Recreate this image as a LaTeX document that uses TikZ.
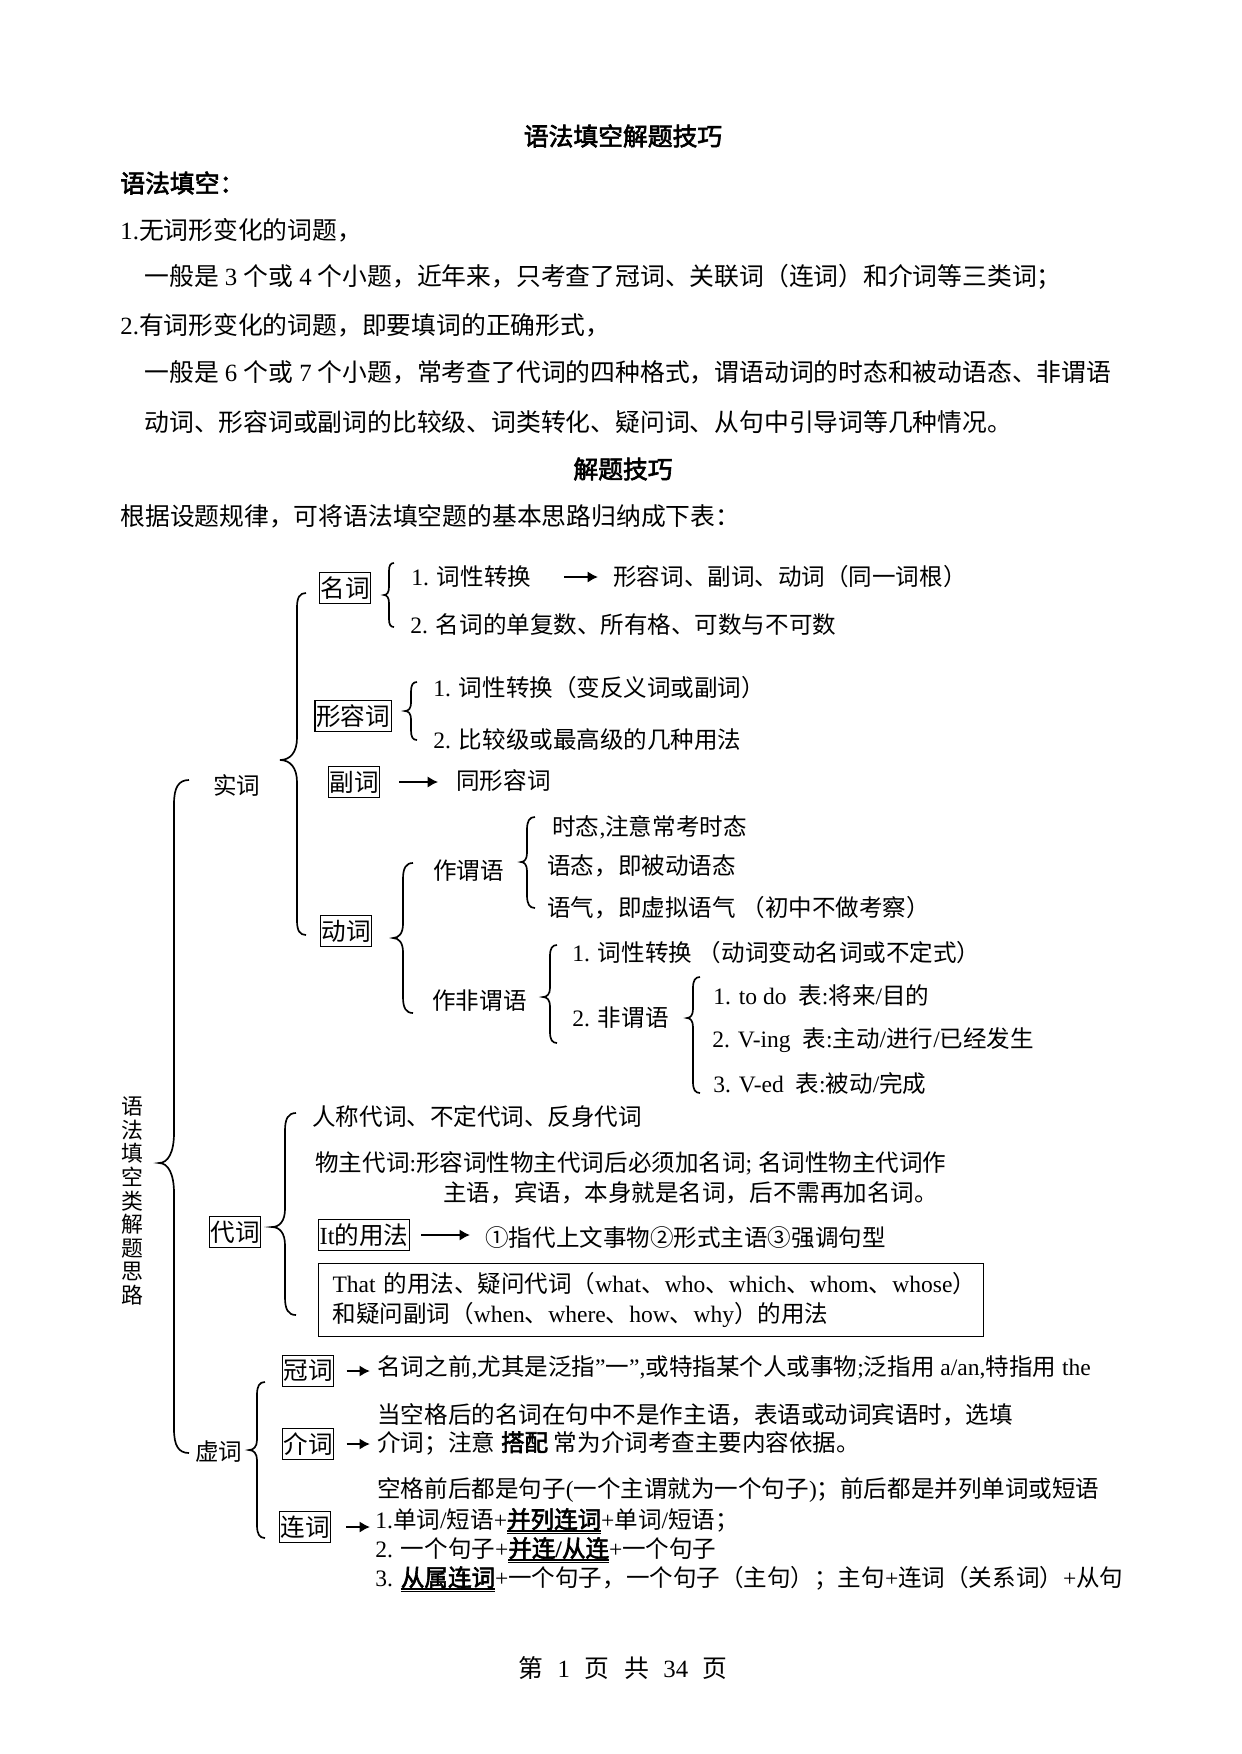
\documentclass[tikz,border=0pt]{standalone}
\usepackage{fontspec}
\setmainfont{Liberation Serif}
\newfontfamily\cjkfont[AutoFakeBold=2.5]{Noto Sans CJK SC}
\usetikzlibrary{arrows.meta}
\newcount\cjkcnt
\newXeTeXintercharclass\CJKcls
\newcommand\setcjkrange[2]{\cjkcnt=#1\relax\loop\XeTeXcharclass\cjkcnt=\CJKcls\relax\ifnum\cjkcnt<#2\relax\advance\cjkcnt by 1\relax\repeat}
\setcjkrange{"4E00}{"9FFF}
\setcjkrange{"3000}{"303F}
\setcjkrange{"FF00}{"FFEF}
\setcjkrange{"2460}{"24FF}
\XeTeXcharclass"201C=0
\XeTeXcharclass"201D=0
\XeTeXinterchartoks 0 \CJKcls={\cjkfont}
\XeTeXinterchartoks 4095 \CJKcls={\cjkfont}
\XeTeXinterchartoks \CJKcls 0={\rmfamily}
\XeTeXinterchartoks \CJKcls 4095={\rmfamily}
\XeTeXinterchartoks 4095 0={\rmfamily}
\XeTeXinterchartokenstate=1
\newcommand\hfont{\fontsize{11.9bp}{14bp}\selectfont}
\newcommand\dfont{\fontsize{11.3bp}{14bp}\selectfont}
\newcommand\bfont{\fontsize{11.8bp}{14bp}\selectfont}
\newbox\uub
\newcommand\uu[1]{\setbox\uub=\hbox{\bfseries#1}\rlap{\rule[-1.7bp]{\wd\uub}{0.9bp}}\rlap{\rule[-2.8bp]{\wd\uub}{0.45bp}}\box\uub}
% brace: xv, ytop, ybot, ytip, hook, tipdepth, tipheight
\newcommand\brc[7]{%
 \draw[brl] (#1+#5,#2) .. controls (#1+0.3*#5,#2) and (#1,#2+0.5*#5) .. (#1,#2+1.6*#5)
 -- (#1,#4-#7) .. controls (#1,#4-0.35*#7) and (#1-0.4*#6,#4) .. (#1-#6,#4)
 .. controls (#1-0.4*#6,#4) and (#1,#4+0.35*#7) .. (#1,#4+#7)
 -- (#1,#3-1.6*#5) .. controls (#1,#3-0.5*#5) and (#1+0.3*#5,#3) .. (#1+#5,#3);}
\begin{document}
\begin{tikzpicture}[x=0.48bp,y=-0.48bp,
 hd/.style={anchor=west,inner sep=0pt,font=\hfont},
 txt/.style={anchor=west,inner sep=0pt,font=\dfont},
 kbox/.style={draw,line width=0.6bp,inner xsep=0.6bp,inner ysep=0pt,minimum height=15bp,font=\bfont},
 arr/.style={line width=1bp,-{Latex[length=5bp,width=5.5bp]}},
 brl/.style={line width=0.8bp}]
\fill[white] (0,0) rectangle (1241,1754);
\useasboundingbox (0,0) rectangle (1241,1754);
% header
\node[hd,anchor=center,font=\hfont\bfseries] (title) at (623,136) {语法填空解题技巧};
\node[hd,font=\hfont\bfseries] (h1) at (120,183) {语法填空：};
\node[hd] (h2) at (120,230) {1.无词形变化的词题，};
\node[hd] (h3) at (144,277) {一般是 3 个或 4 个小题，近年来，只考查了冠词、关联词（连词）和介词等三类词；};
\node[hd] (h4) at (120,325) {2.有词形变化的词题，即要填词的正确形式，};
\node[hd] (h5) at (144,372) {一般是 6 个或 7 个小题，常考查了代词的四种格式，谓语动词的时态和被动语态、非谓语};
\node[hd] (h6) at (144,422) {动词、形容词或副词的比较级、词类转化、疑问词、从句中引导词等几种情况。};
\node[hd,anchor=center,font=\hfont\bfseries] (h7) at (623,469) {解题技巧};
\node[hd] (h8) at (120,516) {根据设题规律，可将语法填空题的基本思路归纳成下表：};
% vertical label
\node[inner sep=0pt,align=center,font=\fontsize{10.5bp}{11.3bp}\selectfont] (vt) at (132,1201) {语\\法\\填\\空\\类\\解\\题\\思\\路};
\brc{174}{780}{1453}{1163}{15}{15}{30}
% 实词
\node[txt] (shici) at (213,785) {实词};
\brc{297}{593}{935}{760}{9}{17}{22}
\node[kbox] (mingci) at (345,588) {名词};
\brc{389}{563}{627}{595}{5}{5}{8}
\node[txt] (n1) at (411,577) {1. 词性转换};
\node[txt] (n1b) at (613,577) {形容词、副词、动词（同一词根）};
\draw[arr,shorten <=15.8bp,shorten >=7.2bp] (n1.east) -- (n1b.west);
\node[txt] (n2) at (410,625) {2. 名词的单复数、所有格、可数与不可数};
\node[kbox] (xrc) at (353,716) {形容词};
\brc{411}{682}{740}{711}{6}{6}{8}
\node[txt] (a1) at (433,688) {1. 词性转换（变反义词或副词）};
\node[txt] (a2) at (433,740) {2. 比较级或最高级的几种用法};
\node[kbox] (fuci) at (354,782) {副词};
\node[txt] (f1) at (456,781) {同形容词};
\draw[arr,shorten <=9.1bp,shorten >=8.6bp] (fuci.east) -- (fuci.east -| f1.west);
\node[kbox] (dongci) at (346,931) {动词};
\brc{403}{863}{1013}{938}{10}{10}{14}
\node[txt] (zwy) at (433,871) {作谓语};
\brc{527}{817}{908}{862}{8}{6}{9}
\node[txt] (t1) at (552,827) {时态,注意常考时态};
\node[txt] (t2) at (547,866) {语态，即被动语态};
\node[txt] (t3) at (547,908) {语气，即虚拟语气 （初中不做考察）};
\node[txt] (zfwy) at (432,1001) {作非谓语};
\brc{550}{945}{1043}{997}{7}{7}{9}
\node[txt] (fw1) at (572,953) {1. 词性转换 （动词变动名词或不定式）};
\node[txt] (fw2) at (572,1018) {2. 非谓语};
\brc{693}{977}{1093}{1018}{7}{6}{9}
\node[txt] (g1) at (713,995) {1. to do~ 表:将来/目的};
\node[txt] (g2) at (712,1040) {2. V-ing~ 表:主动/进行/已经发生};
\node[txt] (g3) at (713,1084) {3. V-ed~ 表:被动/完成};
% 代词
\node[kbox] (daici) at (235,1232) {代词};
\brc{285}{1113}{1315}{1227}{11}{13}{18}
\node[txt] (d1) at (312,1117) {人称代词、不定代词、反身代词};
\node[txt] (d2) at (315,1163) {物主代词:形容词性物主代词后必须加名词; 名词性物主代词作};
\node[txt] (d3) at (443,1193) {主语，宾语，本身就是名词，后不需再加名词。};
\node[kbox] (itb) at (364,1235) {It的用法};
\node[txt] (d4) at (485,1238) {①指代上文事物②形式主语③强调句型};
\draw[arr,shorten <=5.3bp,shorten >=7.2bp] (itb.east) -- (itb.east -| d4.west);
\node[draw,line width=0.6bp,anchor=north west,minimum width=319.2bp,minimum height=35bp,inner xsep=6.7bp,inner ysep=0pt,text width=305.8bp,align=left,font=\fontsize{11.3bp}{14.4bp}\selectfont] (thatb) at (318,1263) {That 的用法、疑问代词（what、who、which、whom、whose）\\和疑问副词（when、where、how、why）的用法};
% 虚词
\node[txt] (xuci) at (195,1452) {虚词};
\brc{257}{1382}{1538}{1450}{8}{8}{10}
\node[kbox] (guanci) at (308,1371) {冠词};
\node[txt] (gt) at (377,1367) {名词之前,尤其是泛指”一”,或特指某个人或事物;泛指用 a/an,特指用 the};
\draw[arr,shorten <=5.8bp,shorten >=3.4bp] (guanci.east) -- (guanci.east -| gt.west);
\node[kbox] (jieci) at (308,1444) {介词};
\node[txt] (j1) at (377,1415) {当空格后的名词在句中不是作主语，表语或动词宾语时，选填};
\node[txt] (j2) at (377,1443) {介词；注意 \textbf{搭配} 常为介词考查主要内容依据。};
\draw[arr,shorten <=5.8bp,shorten >=3.4bp] (jieci.east) -- (jieci.east -| j2.west);
\node[kbox] (lianci) at (305,1527) {连词};
\node[txt] (l0) at (377,1490) {空格前后都是句子(一个主谓就为一个句子)；前后都是并列单词或短语};
\node[txt] (l1) at (375,1521) {1.单词/短语+\uu{并列连词}+单词/短语；};
\node[txt] (l2) at (375,1550) {2. 一个句子+\uu{并连/从连}+一个句子};
\node[txt] (l3) at (375,1579) {3. \uu{从属连词}+一个句子，一个句子（主句）；主句+连词（关系词）+从句};
\draw[arr,shorten <=7.2bp,shorten >=2.4bp] (lianci.east) -- (lianci.east -| l1.west);
% footer
\node[hd,anchor=center] (foot) at (623,1668) {第\hspace{7bp}1\hspace{7bp}页\hspace{7bp}共\hspace{7bp}34\hspace{7bp}页};
\end{tikzpicture}
\end{document}
